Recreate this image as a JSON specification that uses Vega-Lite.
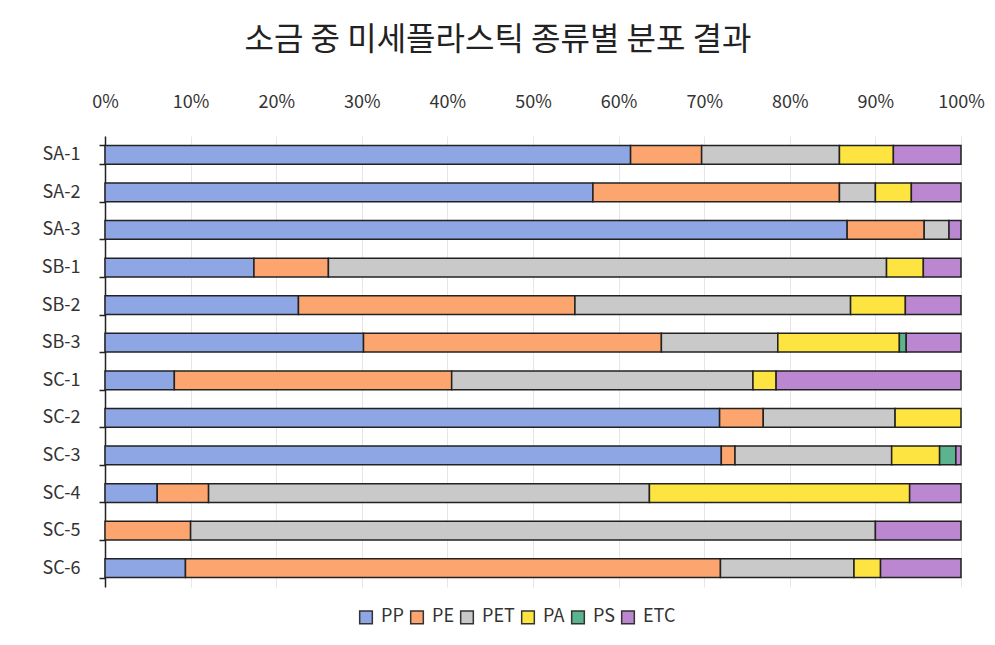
{
  "$schema": "https://vega.github.io/schema/vega-lite/v6.json",
  "width": 856,
  "height": 451,
  "autosize": {"type": "none"},
  "padding": {"left": 105, "top": 136, "right": 34, "bottom": 58},
  "background": "white",
  "title": {"text": "소금 중 미세플라스틱 종류별 분포 결과", "fontSize": 32, "fontWeight": "normal", "color": "#222", "offset": 36, "anchor": "middle", "dx": -35},
  "config": {"font": "Noto Sans CJK KR", "view": {"stroke": null}},
  "data": {"values": [
    {"s": "SA-1", "type": "PP", "v": 61.4}, {"s": "SA-1", "type": "PE", "v": 8.3}, {"s": "SA-1", "type": "PET", "v": 16.1}, {"s": "SA-1", "type": "PA", "v": 6.3}, {"s": "SA-1", "type": "ETC", "v": 7.9},
    {"s": "SA-2", "type": "PP", "v": 57.0}, {"s": "SA-2", "type": "PE", "v": 28.8}, {"s": "SA-2", "type": "PET", "v": 4.2}, {"s": "SA-2", "type": "PA", "v": 4.2}, {"s": "SA-2", "type": "ETC", "v": 5.8},
    {"s": "SA-3", "type": "PP", "v": 86.7}, {"s": "SA-3", "type": "PE", "v": 9.0}, {"s": "SA-3", "type": "PET", "v": 2.9}, {"s": "SA-3", "type": "ETC", "v": 1.4},
    {"s": "SB-1", "type": "PP", "v": 17.4}, {"s": "SB-1", "type": "PE", "v": 8.7}, {"s": "SB-1", "type": "PET", "v": 65.2}, {"s": "SB-1", "type": "PA", "v": 4.3}, {"s": "SB-1", "type": "ETC", "v": 4.4},
    {"s": "SB-2", "type": "PP", "v": 22.6}, {"s": "SB-2", "type": "PE", "v": 32.3}, {"s": "SB-2", "type": "PET", "v": 32.2}, {"s": "SB-2", "type": "PA", "v": 6.4}, {"s": "SB-2", "type": "ETC", "v": 6.5},
    {"s": "SB-3", "type": "PP", "v": 30.2}, {"s": "SB-3", "type": "PE", "v": 34.8}, {"s": "SB-3", "type": "PET", "v": 13.6}, {"s": "SB-3", "type": "PA", "v": 14.2}, {"s": "SB-3", "type": "PS", "v": 0.8}, {"s": "SB-3", "type": "ETC", "v": 6.4},
    {"s": "SC-1", "type": "PP", "v": 8.1}, {"s": "SC-1", "type": "PE", "v": 32.4}, {"s": "SC-1", "type": "PET", "v": 35.2}, {"s": "SC-1", "type": "PA", "v": 2.7}, {"s": "SC-1", "type": "ETC", "v": 21.6},
    {"s": "SC-2", "type": "PP", "v": 71.8}, {"s": "SC-2", "type": "PE", "v": 5.1}, {"s": "SC-2", "type": "PET", "v": 15.4}, {"s": "SC-2", "type": "PA", "v": 7.7},
    {"s": "SC-3", "type": "PP", "v": 72.0}, {"s": "SC-3", "type": "PE", "v": 1.6}, {"s": "SC-3", "type": "PET", "v": 18.3}, {"s": "SC-3", "type": "PA", "v": 5.6}, {"s": "SC-3", "type": "PS", "v": 1.9}, {"s": "SC-3", "type": "ETC", "v": 0.6},
    {"s": "SC-4", "type": "PP", "v": 6.1}, {"s": "SC-4", "type": "PE", "v": 6.0}, {"s": "SC-4", "type": "PET", "v": 51.5}, {"s": "SC-4", "type": "PA", "v": 30.4}, {"s": "SC-4", "type": "ETC", "v": 6.0},
    {"s": "SC-5", "type": "PE", "v": 10.0}, {"s": "SC-5", "type": "PET", "v": 80.0}, {"s": "SC-5", "type": "ETC", "v": 10.0},
    {"s": "SC-6", "type": "PP", "v": 9.4}, {"s": "SC-6", "type": "PE", "v": 62.5}, {"s": "SC-6", "type": "PET", "v": 15.6}, {"s": "SC-6", "type": "PA", "v": 3.1}, {"s": "SC-6", "type": "ETC", "v": 9.4}
  ]},
  "transform": [{"calculate": "indexof(['PP','PE','PET','PA','PS','ETC'], datum.type)", "as": "k"}],
  "mark": {"type": "bar", "stroke": "#222", "strokeWidth": 1.5},
  "encoding": {
    "y": {"field": "s", "type": "nominal", "sort": ["SA-1","SA-2","SA-3","SB-1","SB-2","SB-3","SC-1","SC-2","SC-3","SC-4","SC-5","SC-6"],
      "scale": {"paddingInner": 0.5, "paddingOuter": 0.25},
      "axis": {"title": null, "labelFontSize": 18, "labelColor": "#333", "domainColor": "#222", "domainWidth": 1.5, "tickColor": "#222", "tickWidth": 1.5, "tickSize": 6, "tickBand": "extent", "labelPadding": 19, "grid": false}},
    "x": {"field": "v", "type": "quantitative", "stack": "normalize",
      "scale": {"domain": [0, 1]},
      "axis": {"title": null, "orient": "top", "format": ".0%", "values": [0,0.1,0.2,0.3,0.4,0.5,0.6,0.7,0.8,0.9,1], "labelOverlap": false, "labelFlush": false, "labelFontSize": 18, "labelColor": "#333", "domain": false, "ticks": false, "tickSize": 0, "labelPadding": 25, "grid": true, "gridColor": "#E6E6E6", "gridWidth": 1}},
    "color": {"field": "type", "type": "nominal",
      "scale": {"domain": ["PP","PE","PET","PA","PS","ETC"], "range": ["#8EA6E4","#FDA56F","#C9C9C9","#FEE440","#5BB48E","#BC87D1"]},
      "legend": {"title": null, "orient": "none", "legendX": 252, "legendY": 472, "direction": "horizontal", "symbolType": "square", "symbolSize": 160, "symbolStrokeColor": "#333", "symbolStrokeWidth": 1.5, "symbolOpacity": 1, "labelFontSize": 18, "labelColor": "#333", "columnPadding": 3, "labelOffset": 6}},
    "order": {"field": "k", "type": "quantitative"}
  }
}
